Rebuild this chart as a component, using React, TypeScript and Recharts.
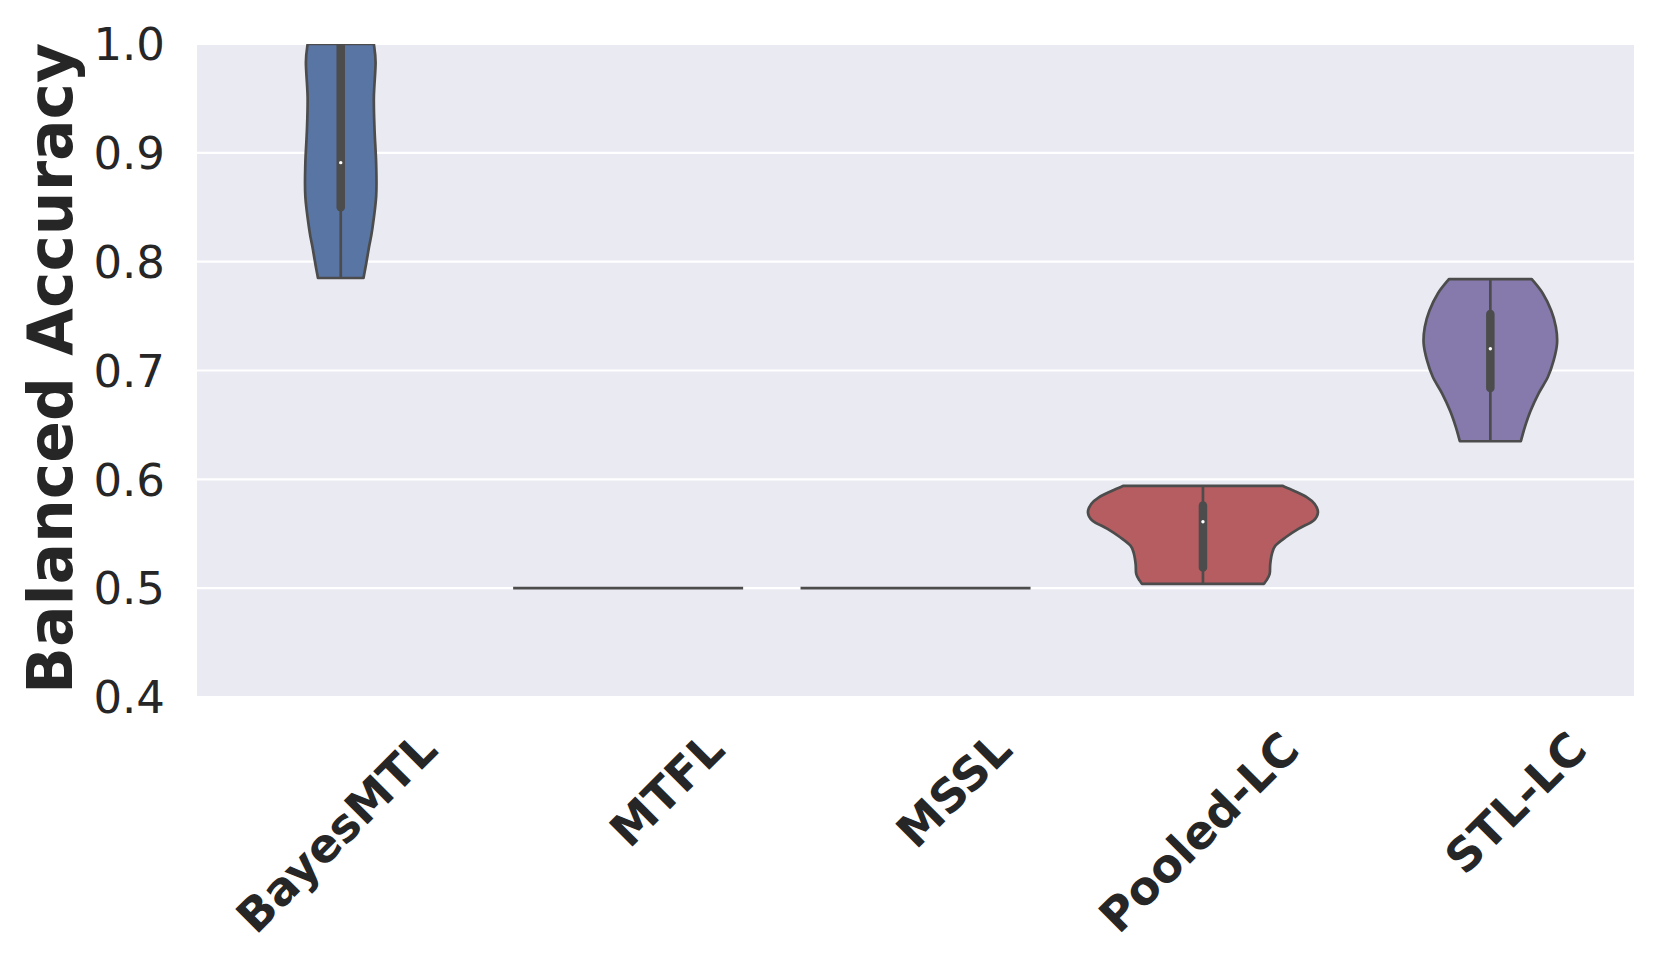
import React from 'react';
import { ComposedChart, Bar, XAxis, YAxis, CartesianGrid } from 'recharts';

// ---------- data ----------
const categories = ['BayesMTL', 'MTFL', 'MSSL', 'Pooled-LC', 'STL-LC'];
const minValues = [0.785, 0.5, 0.5, 0.504, 0.635];
const maxValues = [1.0, 0.5, 0.5, 0.594, 0.784];
const q1Values = [0.85, 0.5, 0.5, 0.519, 0.684];
const medianValues = [0.891, 0.5, 0.5, 0.561, 0.72];
const q3Values = [1.0, 0.5, 0.5, 0.576, 0.752];

// density profiles (value, relative half-width)
const bayesProfileY = [1.0, 0.983, 0.951, 0.921, 0.89, 0.86, 0.829, 0.813, 0.798, 0.785];
const bayesProfileW = [0.288, 0.303, 0.288, 0.294, 0.308, 0.308, 0.273, 0.245, 0.221, 0.198];
const mtflProfileY: number[] = [];
const mtflProfileW: number[] = [];
const msslProfileY: number[] = [];
const msslProfileW: number[] = [];
const pooledProfileY = [0.594, 0.5895, 0.5835, 0.5775, 0.5697, 0.562, 0.5545, 0.5468, 0.539, 0.5315, 0.522, 0.513, 0.5069, 0.504];
const pooledProfileW = [0.69, 0.79, 0.905, 0.97, 1.0, 0.96, 0.83, 0.72, 0.63, 0.6, 0.585, 0.58, 0.55, 0.53];
const stlProfileY = [0.784, 0.771, 0.755, 0.74, 0.725, 0.709, 0.694, 0.679, 0.663, 0.648, 0.635];
const stlProfileW = [0.36, 0.455, 0.53, 0.57, 0.58, 0.55, 0.5, 0.42, 0.35, 0.3, 0.265];

const profilesY = [bayesProfileY, mtflProfileY, msslProfileY, pooledProfileY, stlProfileY];
const profilesW = [bayesProfileW, mtflProfileW, msslProfileW, pooledProfileW, stlProfileW];

const yTicks = [0.4, 0.5, 0.6, 0.7, 0.8, 0.9, 1.0];
const fills = ['#5875a4', '#cc8963', '#5f9e6e', '#b55d60', '#857aab'];

const data = categories.map((name, i) => ({
  name,
  vmin: minValues[i],
  vmax: maxValues[i],
  q1: q1Values[i],
  median: medianValues[i],
  q3: q3Values[i],
  profileY: profilesY[i],
  profileW: profilesW[i],
  fill: fills[i],
}));

// ---------- styling ----------
const Y_MIN = yTicks[0];
const Y_MAX = yTicks[yTicks.length - 1];
const LINE = '#4c4c4c';
const TEXT = '#262626';
const FONT = "'DejaVu Sans', sans-serif";
const X_TICK_SIZE = 46;
const Y_TICK_SIZE = 45;

type Pt = [number, number];
function smooth(pts: Pt[], start: 'M' | 'L'): string {
  let d = `${start}${pts[0][0]},${pts[0][1]}`;
  for (let i = 0; i < pts.length - 1; i++) {
    const p0 = pts[i - 1] || pts[i];
    const p1 = pts[i];
    const p2 = pts[i + 1];
    const p3 = pts[i + 2] || p2;
    const c1x = p1[0] + (p2[0] - p0[0]) / 6;
    const c1y = p1[1] + (p2[1] - p0[1]) / 6;
    const c2x = p2[0] - (p3[0] - p1[0]) / 6;
    const c2y = p2[1] - (p3[1] - p1[1]) / 6;
    d += ` C${c1x},${c1y} ${c2x},${c2y} ${p2[0]},${p2[1]}`;
  }
  return d;
}

const ViolinShape = (props: any) => {
  const { x, y, width, height, payload, index } = props;
  if (payload == null) return null;
  const top = payload.vmax;
  const scaleY = (v: number) => y + ((top - v) / (top - Y_MIN)) * height;
  const cx = x + width / 2;
  const half = width / 2;
  const py: number[] = payload.profileY;
  const pw: number[] = payload.profileW;

  if (!py || py.length === 0) {
    const yy = scaleY(payload.median);
    return (
      <g>
        <line x1={cx - half} x2={cx + half} y1={yy} y2={yy} stroke={LINE} strokeWidth={2.8} />
      </g>
    );
  }

  const left: Pt[] = py.map((v, i) => [cx - pw[i] * half, scaleY(v)]);
  const right: Pt[] = py.map((v, i) => [cx + pw[i] * half, scaleY(v)] as Pt).reverse();
  const d = smooth(left, 'M') + ' ' + smooth(right, 'L') + ' Z';
  const clipId = `violin-clip-${index}`;
  const clipTop = scaleY(Y_MAX);
  const clipBottom = scaleY(Y_MIN);
  return (
    <g>
      <defs>
        <clipPath id={clipId}>
          <rect x={x - 200} y={clipTop} width={width + 400} height={clipBottom - clipTop} />
        </clipPath>
      </defs>
      <g clipPath={`url(#${clipId})`}>
        <path d={d} fill={payload.fill} stroke={LINE} strokeWidth={2.7} strokeLinejoin="round" />
        <line x1={cx} x2={cx} y1={scaleY(payload.vmax)} y2={scaleY(payload.vmin)} stroke={LINE} strokeWidth={2.7} />
        <line
          x1={cx}
          x2={cx}
          y1={scaleY(payload.q3)}
          y2={scaleY(payload.q1)}
          stroke={LINE}
          strokeWidth={8.5}
          strokeLinecap="round"
        />
        <circle cx={cx} cy={scaleY(payload.median)} r={1.7} fill="#ffffff" />
      </g>
    </g>
  );
};

const XTick = (props: any) => {
  const { x, y, payload } = props;
  const label = String(payload.value);
  return (
    <g transform={`translate(${x + 99},${y + 55}) rotate(-45)`}>
      <text
        x={0}
        y={0}
        textAnchor="end"
        fontFamily={FONT}
        fontWeight="bold"
        fontSize={X_TICK_SIZE}
        fill={TEXT}
      >
        {label}
      </text>
    </g>
  );
};

const YTick = (props: any) => {
  const { x, y, payload } = props;
  return (
    <text
      x={x}
      y={y + 0.36 * Y_TICK_SIZE}
      textAnchor="end"
      fontFamily={FONT}
      fontSize={Y_TICK_SIZE}
      fill={TEXT}
    >
      {Number(payload.value).toFixed(1)}
    </text>
  );
};

const YLabel = (props: any) => {
  const vb = props.viewBox || { x: 0, y: 44, width: 197, height: 653 };
  const cx = 72;
  const cy = vb.y + vb.height / 2 - 2;
  return (
    <text
      transform={`translate(${cx},${cy}) rotate(-90)`}
      x={0}
      y={0}
      textAnchor="middle"
      fontFamily={FONT}
      fontWeight="bold"
      fontSize={61.5}
      fill={TEXT}
    >
      Balanced Accuracy
    </text>
  );
};

export default function App() {
  return (
    <div style={{ position: 'absolute', left: 0, top: 0, width: 1661, height: 969, background: '#ffffff' }}>
      <ComposedChart
        width={1661}
        height={969}
        data={data}
        margin={{ top: 44, right: 27, bottom: 0, left: 0 }}
        barCategoryGap="10%"
      >
        <CartesianGrid vertical={false} horizontal={true} fill="#eaeaf2" stroke="#ffffff" strokeWidth={2.2} />
        <XAxis
          dataKey="name"
          type="category"
          height={272}
          tickLine={false}
          axisLine={false}
          tickSize={0}
          tickMargin={0}
          interval={0}
          tick={<XTick />}
        />
        <YAxis
          type="number"
          domain={[Y_MIN, Y_MAX]}
          ticks={yTicks}
          width={197}
          tickLine={false}
          axisLine={false}
          tickSize={0}
          tickMargin={32}
          interval={0}
          tick={<YTick />}
          label={<YLabel />}
        />
        <Bar dataKey="vmax" isAnimationActive={false} shape={<ViolinShape />} />
      </ComposedChart>
    </div>
  );
}
